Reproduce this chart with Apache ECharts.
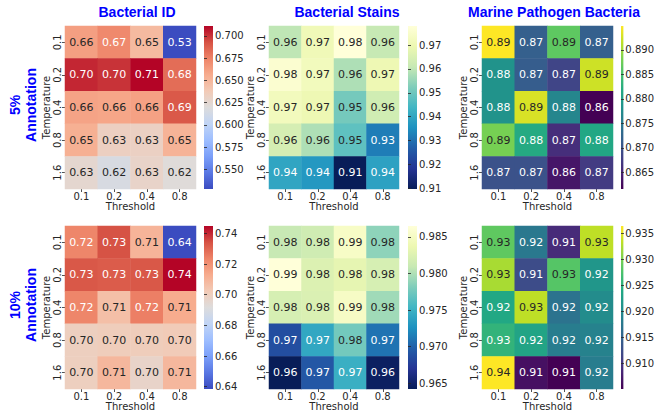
<!DOCTYPE html>
<html><head><meta charset="utf-8">
<script src="https://cdn.jsdelivr.net/npm/echarts@6/dist/echarts.min.js"></script>
<style>html,body{margin:0;padding:0;background:#fff}#c{width:657px;height:415px}</style>
</head><body><div id="c"></div>
<script>
// ---- data ----
const thresholds = ['0.1', '0.2', '0.4', '0.8'];
const temperatures = ['0.1', '0.2', '0.4', '0.8', '1.6'];
const columnTitles = ['Bacterial ID', 'Bacterial Stains', 'Marine Pathogen Bacteria'];
const rowTitles = ['5%\nAnnotation', '10%\nAnnotation'];

// rows = temperature (0.1 .. 1.6), columns = threshold (0.1 .. 0.8)
const bactId5 = [
  [0.662, 0.672, 0.648, 0.528],
  [0.703, 0.700, 0.711, 0.683],
  [0.660, 0.659, 0.661, 0.690],
  [0.654, 0.633, 0.632, 0.652],
  [0.626, 0.616, 0.629, 0.621]
];
const stains5 = [
  [0.960, 0.971, 0.978, 0.961],
  [0.976, 0.972, 0.958, 0.970],
  [0.972, 0.970, 0.951, 0.963],
  [0.964, 0.958, 0.948, 0.932],
  [0.940, 0.937, 0.9097, 0.939]
];
const marine5 = [
  [0.8949, 0.8717, 0.8865, 0.8717],
  [0.8785, 0.8714, 0.8684, 0.8924],
  [0.8785, 0.8930, 0.8768, 0.8616],
  [0.8880, 0.8819, 0.8660, 0.8815],
  [0.8700, 0.8700, 0.8636, 0.8673]
];
const bactId10 = [
  [0.723, 0.734, 0.710, 0.6385],
  [0.733, 0.732, 0.733, 0.7448],
  [0.723, 0.7065, 0.7245, 0.713],
  [0.700, 0.701, 0.701, 0.702],
  [0.700, 0.709, 0.697, 0.709]
];
const stains10 = [
  [0.9810, 0.9815, 0.9852, 0.9787],
  [0.9865, 0.9825, 0.9832, 0.9820],
  [0.9820, 0.9823, 0.9851, 0.9794],
  [0.9687, 0.9742, 0.9776, 0.9709],
  [0.9642, 0.9693, 0.9748, 0.9646]
];
const marine10 = [
  [0.9286, 0.9176, 0.9089, 0.9333],
  [0.9323, 0.9123, 0.9280, 0.9214],
  [0.9239, 0.9333, 0.9170, 0.9201],
  [0.9254, 0.9233, 0.9182, 0.9189],
  [0.9364, 0.9064, 0.9051, 0.9182]
];

// colorbar tick labels
const bactId5Ticks = ['0.550', '0.575', '0.600', '0.625', '0.650', '0.675', '0.700'];
const stains5Ticks = ['0.91', '0.92', '0.93', '0.94', '0.95', '0.96', '0.97'];
const marine5Ticks = ['0.865', '0.870', '0.875', '0.880', '0.885', '0.890'];
const bactId10Ticks = ['0.64', '0.66', '0.68', '0.70', '0.72', '0.74'];
const stains10Ticks = ['0.965', '0.970', '0.975', '0.980', '0.985'];
const marine10Ticks = ['0.910', '0.915', '0.920', '0.925', '0.930', '0.935'];

// ---- colour maps (low -> high) ----
const COOLWARM = ['#3b4cc0', '#5977e3', '#7b9ff9', '#9ebeff', '#c0d4f5', '#dddcdc', '#f2cbb7', '#f7ac8e', '#ee8468', '#d65244', '#b40426'];
const YLGNBU = ['#081d58', '#253494', '#225ea8', '#1d91c0', '#41b6c4', '#7fcdbb', '#c7e9b4', '#edf8b1', '#ffffd9'];
const VIRIDIS = ['#440154', '#482475', '#414487', '#355f8d', '#2a788e', '#21918c', '#22a884', '#44bf70', '#7ad151', '#bddf26', '#fde725'];

const panels = [
  { values: bactId5, ticks: bactId5Ticks, cmap: COOLWARM, row: 0, col: 0 },
  { values: stains5, ticks: stains5Ticks, cmap: YLGNBU, row: 0, col: 1 },
  { values: marine5, ticks: marine5Ticks, cmap: VIRIDIS, row: 0, col: 2 },
  { values: bactId10, ticks: bactId10Ticks, cmap: COOLWARM, row: 1, col: 0 },
  { values: stains10, ticks: stains10Ticks, cmap: YLGNBU, row: 1, col: 1 },
  { values: marine10, ticks: marine10Ticks, cmap: VIRIDIS, row: 1, col: 2 }
];

// ---- layout ----
const hmLeft = [65, 269, 482];
const hmWidth = [131, 130, 131];
const cbLeft = [204, 408, 621];
const cbWidth = 9;
const rowTop = [26, 226];
const hmHeight = 163;
const titleX = [137, 347, 554];
const rowLabelY = [105, 305];

const TXT = '#262626';
const FONT = 'DejaVu Sans';

function hexRgb(h) { return [parseInt(h.substr(1, 2), 16), parseInt(h.substr(3, 2), 16), parseInt(h.substr(5, 2), 16)]; }
function cmapAt(cmap, t) {
  t = Math.max(0, Math.min(1, t));
  const p = t * (cmap.length - 1);
  const i = Math.min(Math.floor(p), cmap.length - 2);
  const f = p - i;
  const a = hexRgb(cmap[i]), b = hexRgb(cmap[i + 1]);
  return [0, 1, 2].map(k => a[k] + (b[k] - a[k]) * f);
}
function luminance(rgb) {
  const c = rgb.map(v => { v /= 255; return v <= 0.03928 ? v / 12.92 : Math.pow((v + 0.055) / 1.055, 2.4); });
  return 0.2126 * c[0] + 0.7152 * c[1] + 0.0722 * c[2];
}

const grids = [], xAxes = [], yAxes = [], series = [], visualMaps = [];

panels.forEach((p, i) => {
  const flat = p.values.flat();
  const vmin = Math.min(...flat), vmax = Math.max(...flat);
  p.vmin = vmin; p.vmax = vmax;
  grids.push({ left: hmLeft[p.col], top: rowTop[p.row], width: hmWidth[p.col], height: hmHeight, containLabel: false });
  xAxes.push({
    type: 'category', gridIndex: i, data: thresholds, position: 'bottom',
    axisLine: { show: false },
    axisTick: { show: true, length: 3, alignWithLabel: true, lineStyle: { color: TXT, width: 0.8 } },
    axisLabel: { fontSize: 10, fontFamily: FONT, color: TXT, margin: 2 },
    splitLine: { show: false },
    name: 'Threshold', nameLocation: 'middle', nameGap: 10,
    nameTextStyle: { fontSize: 10, fontFamily: FONT, color: TXT }
  });
  yAxes.push({
    type: 'category', gridIndex: i, data: temperatures, inverse: true, position: 'left',
    axisLine: { show: false },
    axisTick: { show: true, length: 3, alignWithLabel: true, lineStyle: { color: TXT, width: 0.8 } },
    axisLabel: { fontSize: 10, fontFamily: FONT, color: TXT, margin: 3, rotate: 90 },
    splitLine: { show: false },
    name: 'Temperature', nameLocation: 'middle', nameGap: 14, nameRotate: 90,
    nameTextStyle: { fontSize: 10, fontFamily: FONT, color: TXT }
  });
  const data = [];
  p.values.forEach((row, r) => row.forEach((v, c) => {
    const rgb = cmapAt(p.cmap, (v - vmin) / (vmax - vmin));
    data.push({ value: [c, r, v], label: { color: luminance(rgb) > 0.408 ? TXT : '#ffffff' } });
  }));
  series.push({
    type: 'heatmap', xAxisIndex: i, yAxisIndex: i, data: data,
    itemStyle: { borderWidth: 0 },
    label: { show: true, fontSize: 11, fontFamily: FONT, formatter: q => q.value[2].toFixed(2) },
    emphasis: { disabled: true }
  });
  visualMaps.push({
    type: 'continuous', show: false, seriesIndex: i, dimension: 2,
    min: vmin, max: vmax, inRange: { color: p.cmap }
  });
});

// colour bars
panels.forEach((p, i) => {
  const gi = grids.length;
  const n = p.cmap.length;
  const stops = p.cmap.map((c, k) => ({ offset: 1 - k / (n - 1), color: c })).reverse();
  grids.push({
    left: cbLeft[p.col], top: rowTop[p.row], width: cbWidth, height: hmHeight,
    show: true, borderWidth: 0,
    backgroundColor: { type: 'linear', x: 0, y: 0, x2: 0, y2: 1, colorStops: stops }
  });
  const tickVals = p.ticks.map(s => parseFloat(s));
  const dec = p.ticks[0].split('.')[1].length;
  xAxes.push({ type: 'value', gridIndex: gi, show: false, min: 0, max: 1 });
  yAxes.push({
    type: 'value', gridIndex: gi, position: 'right', min: p.vmin, max: p.vmax,
    axisLine: { show: false },
    axisTick: { show: true, length: 3, lineStyle: { color: TXT, width: 0.8 }, customValues: tickVals },
    axisLabel: { fontSize: 10, fontFamily: FONT, color: TXT, margin: 2, customValues: tickVals, formatter: v => v.toFixed(dec), showMinLabel: true, showMaxLabel: true, hideOverlap: false },
    splitLine: { show: false }
  });
});

const graphics = [];
columnTitles.forEach((t, c) => graphics.push({
  type: 'text', x: titleX[c], y: 12,
  style: { text: t, fill: '#0000ff', font: 'bold 14px "Liberation Sans", Arial, sans-serif', textAlign: 'center', textVerticalAlign: 'middle' }
}));
rowTitles.forEach((t, r) => graphics.push({
  type: 'text', x: 23, y: rowLabelY[r], rotation: Math.PI / 2,
  style: { text: t, fill: '#0000ff', font: 'bold 14px "Liberation Sans", Arial, sans-serif', textAlign: 'center', textVerticalAlign: 'middle', lineHeight: 16 }
}));

const chart = echarts.init(document.getElementById('c'), null, { renderer: 'svg' });
chart.setOption({
  animation: false,
  backgroundColor: '#ffffff',
  grid: grids, xAxis: xAxes, yAxis: yAxes,
  visualMap: visualMaps, series: series, graphic: graphics
});
</script></body></html>
